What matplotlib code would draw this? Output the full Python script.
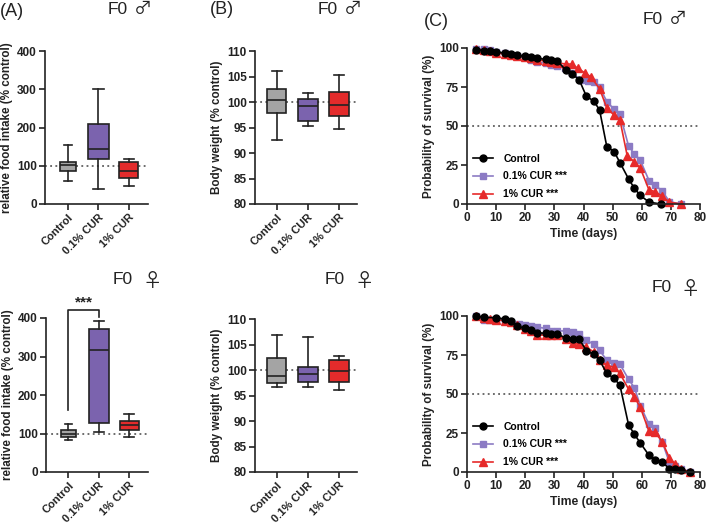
import numpy as np
import matplotlib.pyplot as plt

plt.rcParams['font.family'] = ['Liberation Sans', 'DejaVu Sans']

W, H = 709, 526

groups = ["Control", "0.1% CUR", "1% CUR"]
box_colors = ["#A4A4A4", "#7B63AE", "#E32B2B"]

# box stats: [whisker low, Q1, median, Q3, whisker high]
food_m = [[60, 87, 101, 110, 155], [40, 117, 145, 208, 300], [48, 67, 85, 111, 117]]
food_f = [[83, 91, 100, 110, 124], [105, 127, 318, 372, 393], [90, 108, 122, 132, 150]]
bw_m = [[92.5, 97.8, 100.4, 102.5, 106.1], [95.2, 96.3, 99.2, 100.6, 101.8], [94.8, 97.3, 99.5, 102.0, 105.3]]
bw_f = [[96.6, 97.5, 98.9, 102.4, 106.8], [96.6, 97.7, 99.3, 100.5, 106.4], [96.1, 97.7, 99.9, 102.0, 102.8]]

# survival, male
t_ctrl_m = [3, 6, 8, 10, 13, 15, 17, 20, 22, 24, 27, 29, 31, 34, 36, 38.5, 41, 43.5, 45.5, 48, 50.5, 52.5, 55.5, 57.5, 59.5, 62.5, 66.5]
s_ctrl_m = [99, 98.3, 97.9, 97.5, 96.8, 96, 95.5, 94.6, 94, 93.5, 92.7, 92.3, 91.9, 85.6, 83.5, 79.7, 69, 66, 60.4, 36.8, 33.6, 26.6, 16, 10, 5.5, 1.2, 0]
t_low_m = [3, 6, 8, 10, 13, 15, 17, 20, 22, 24, 27, 29, 31, 33.5, 36, 39, 41.5, 43.5, 45.5, 48, 50.5, 52.5, 55.5, 57.5, 59.5, 62.5, 64.5, 67, 69.5, 73.5]
s_low_m = [99.5, 99.3, 98.5, 97.5, 96.5, 95.5, 95, 94, 92.5, 90.8, 90.4, 89.3, 88.7, 87, 84, 79.7, 79, 78, 75, 65.7, 60.7, 57.8, 37, 32, 28, 15, 12, 8.5, 1.5, 0]
t_high_m = [3, 6, 8, 10, 13, 15, 17, 20, 22, 24, 27, 29, 31, 34, 36, 38, 40.5, 42.5, 45.5, 48, 50.5, 52.5, 55, 57.5, 59.5, 62.5, 64.5, 67, 69.5, 73.5]
s_high_m = [99.5, 98.5, 98, 97, 96, 95.5, 95, 94, 93.5, 92.5, 91.5, 91, 90.5, 89.7, 89.7, 87, 84, 81.5, 74, 61.5, 57, 54, 31, 27, 23, 9, 8, 5, 1.2, 0]

# survival, female
t_ctrl_f = [3, 6, 10, 13, 15, 17, 20, 22, 24, 27, 29, 31, 34, 36.5, 38.5, 41, 43.5, 45.5, 48, 50.5, 52.5, 55.5, 57.5, 59.5, 62.5, 64.5, 67, 69.5, 71.5, 73.5, 76.5]
s_ctrl_f = [100, 99.1, 98.9, 98, 97, 93.6, 92, 91, 89.3, 88.9, 88.3, 88.3, 86, 85.4, 85.4, 77.7, 75.4, 71.7, 63.2, 60, 55.7, 30, 24.2, 18.6, 10.7, 7.5, 6.4, 2.1, 1.7, 1, 0]
t_low_f = [3, 6, 8, 10, 13, 15, 18, 20, 22, 24, 27, 29, 31, 34, 36.5, 38.5, 41, 43.5, 45.5, 48, 50.5, 52.5, 55.5, 57.5, 59.5, 62.5, 64.5, 67, 69.5, 71.5, 73.5, 76.5]
s_low_f = [100, 97.4, 97.4, 97.4, 97, 96, 95, 94.4, 93.7, 93, 92, 90.5, 90.5, 90.4, 90, 88.4, 84.6, 81.8, 78, 71.7, 69.6, 69.2, 59.3, 54, 42.5, 30.5, 28, 19.5, 6, 3.6, 2.2, 0]
t_high_f = [3, 6, 8, 10, 13, 15, 17, 20, 22, 24, 27, 29, 31, 34, 36.5, 38.5, 41, 43.5, 45.5, 48, 50.5, 52.5, 55.5, 57.5, 59.5, 62.5, 64.5, 67, 69.5, 71.5, 73.5, 76.5]
s_high_f = [100, 98.5, 98, 97.5, 97, 96, 94, 91.6, 90.5, 87.8, 87.8, 87.8, 87.8, 85, 82.9, 82, 80, 77, 72, 68.5, 67, 63.2, 53, 47.9, 41.5, 26, 25.5, 19.5, 9, 5, 2, 0]

LW = 1.2
INK = "#222222"


def pos(l, r, t, b):
    return [l / W, 1 - b / H, (r - l) / W, (b - t) / H]


def style(ax):
    for s in ["top", "right"]:
        ax.spines[s].set_visible(False)
    for s in ["left", "bottom"]:
        ax.spines[s].set_linewidth(LW)
        ax.spines[s].set_color(INK)
    ax.tick_params(width=LW, length=4, labelsize=8.5, pad=2, colors=INK)
    for lab in ax.get_xticklabels() + ax.get_yticklabels():
        lab.set_fontweight("bold")


def boxpanel(ax, data, ylim, yticks, ylabel, xlim, widths):
    stats = [dict(whislo=d[0], q1=d[1], med=d[2], q3=d[3], whishi=d[4], fliers=[]) for d in data]
    bp = ax.bxp(stats, positions=[0, 1, 2], widths=widths, patch_artist=True, showfliers=False,
                boxprops=dict(linewidth=LW, edgecolor=INK),
                medianprops=dict(color=INK, linewidth=LW),
                whiskerprops=dict(color=INK, linewidth=LW),
                capprops=dict(color=INK, linewidth=LW))
    for patch, c in zip(bp["boxes"], box_colors):
        patch.set_facecolor(c)
    ax.axhline(100, color="#444444", ls=(0, (1.2, 2.2)), lw=1.1, zorder=0)
    ax.set_xlim(*xlim)
    ax.set_ylim(*ylim)
    ax.set_yticks(yticks)
    ax.set_xticks([0, 1, 2])
    ax.set_xticklabels(groups, rotation=45, ha="right", rotation_mode="anchor")
    ax.set_ylabel(ylabel, fontsize=8.4, fontweight="bold", labelpad=3, color=INK)
    style(ax)
    for lab in ax.get_xticklabels():
        lab.set_fontsize(8)


def survpanel(ax, curves):
    handles = []
    for t, s, c, m, ms, lab in curves:
        h, = ax.plot(t, s, color=c, marker=m, ms=ms, lw=LW, clip_on=False, label=lab)
        handles.append(h)
    ax.axhline(50, color="#444444", ls=(0, (1.2, 2.2)), lw=1.1, zorder=0)
    ax.set_xlim(0, 80)
    ax.set_ylim(0, 100)
    ax.set_xticks(np.arange(0, 81, 10))
    ax.set_yticks([0, 25, 50, 75, 100])
    ax.set_xlabel("Time (days)", fontsize=8.7, fontweight="bold", labelpad=3, color=INK)
    ax.set_ylabel("Probability of survival (%)", fontsize=8.4, fontweight="bold", labelpad=3, color=INK)
    style(ax)
    order = [2, 0, 1]
    ax.legend([handles[i] for i in order], [handles[i].get_label() for i in order],
              loc="lower left", bbox_to_anchor=(0.0, -0.01), frameon=False,
              handlelength=1.9, labelspacing=0.75, handletextpad=1.0,
              prop=dict(size=7.5, weight="bold"), borderaxespad=0.2)


fig = plt.figure(figsize=(W / 100, H / 100), dpi=100)

wA = [0.52, 0.68, 0.62]
wB = [0.62, 0.62, 0.64]
axA1 = fig.add_axes(pos(45, 148, 51, 204))
boxpanel(axA1, food_m, (0, 400), [0, 100, 200, 300, 400], "relative food intake (% control)", (-0.74, 2.62), wA)
axB1 = fig.add_axes(pos(255, 357, 51, 204))
boxpanel(axB1, bw_m, (80, 110), [80, 85, 90, 95, 100, 105, 110], "Body weight (% control)", (-0.7, 2.58), wB)
axA2 = fig.add_axes(pos(46, 148, 318, 472))
boxpanel(axA2, food_f, (0, 400), [0, 100, 200, 300, 400], "relative food intake (% control)", (-0.74, 2.62), wA)
axB2 = fig.add_axes(pos(255, 357, 319, 472))
boxpanel(axB2, bw_f, (80, 110), [80, 85, 90, 95, 100, 105, 110], "Body weight (% control)", (-0.7, 2.58), wB)

# significance bracket
axA2.plot([0, 0, 1, 1], [161, 420, 420, 403], color=INK, lw=LW, clip_on=False)
axA2.text(0.5, 440, "***", ha="center", va="center", fontsize=11, fontweight="bold", clip_on=False, color=INK)

purple = "#8C7BC4"
red = "#E62A2A"
axC1 = fig.add_axes(pos(467, 700, 48, 204))
survpanel(axC1, [(t_low_m, s_low_m, purple, "s", 5, "0.1% CUR ***"),
                 (t_high_m, s_high_m, red, "^", 5.5, "1% CUR ***"),
                 (t_ctrl_m, s_ctrl_m, "black", "o", 5, "Control")])
axC2 = fig.add_axes(pos(467, 700, 316, 472))
survpanel(axC2, [(t_low_f, s_low_f, purple, "s", 5, "0.1% CUR ***"),
                 (t_high_f, s_high_f, red, "^", 5.5, "1% CUR ***"),
                 (t_ctrl_f, s_ctrl_f, "black", "o", 5, "Control")])


def panel_label(x, y, s):
    fig.text(x / W, 1 - y / H, s, fontsize=13, va="center", ha="left", color=INK)


def sex_title(x, y, male):
    fig.text(x / W, 1 - y / H, "F0", fontsize=12.5, va="center", ha="left", color=INK)
    if male:
        fig.text((x + 26) / W, 1 - y / H, "\u2642", fontsize=13, va="center", ha="left",
                 color=INK, family=["Noto Sans CJK JP", "DejaVu Sans"])
    else:
        fig.text((x + 29) / W, 1 - (y + 2) / H, "\u2640", fontsize=14, va="center", ha="left",
                 color=INK, family=["Noto Sans CJK JP", "DejaVu Sans"])


panel_label(0, 11, "(A)")
panel_label(210, 10, "(B)")
panel_label(424, 21, "(C)")
sex_title(108, 9, True)
sex_title(318, 9, True)
sex_title(643, 19, True)
sex_title(113, 279, False)
sex_title(325, 279, False)
sex_title(652, 288, False)

fig.savefig("out.png", dpi=100)
